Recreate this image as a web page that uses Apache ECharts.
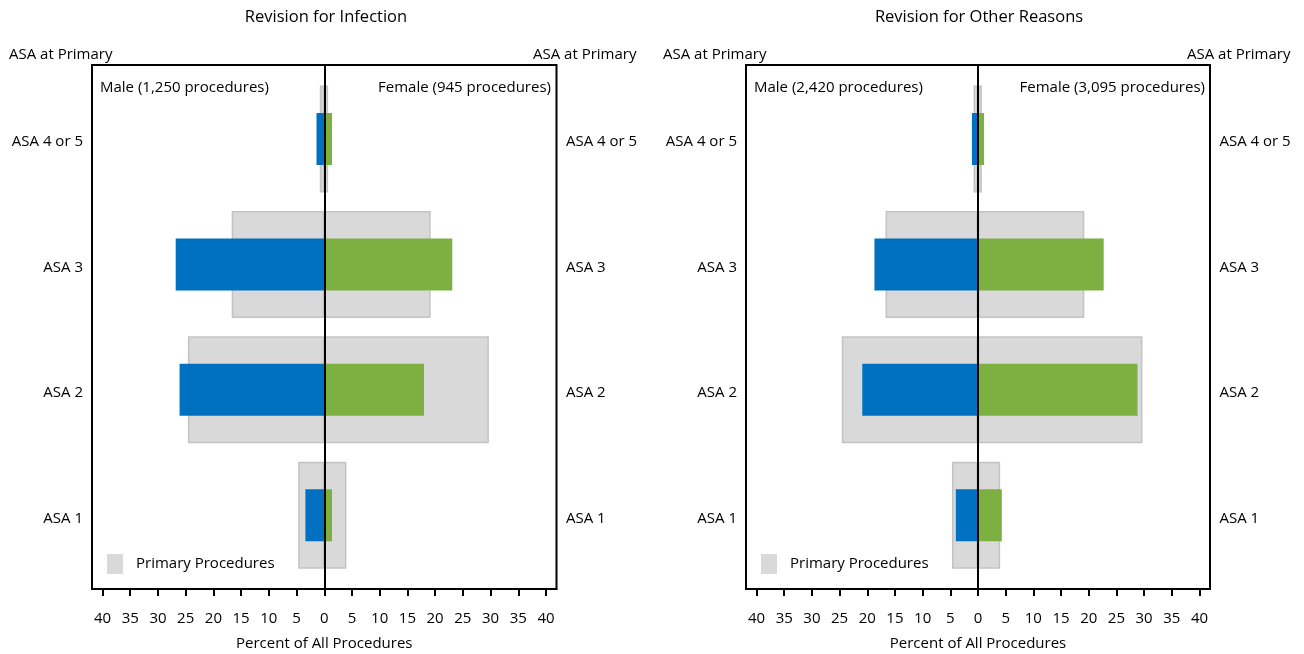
<!DOCTYPE html>
<html><head><meta charset="utf-8">
<script src="https://cdn.jsdelivr.net/npm/echarts@6/dist/echarts.min.js"></script>
<style>html,body{margin:0;padding:0;background:#fff}#c{width:1304px;height:654px}</style>
</head><body><div id="c"></div>
<script>
// ---- data ----
const categories = ['ASA 1', 'ASA 2', 'ASA 3', 'ASA 4 or 5'];
const xTicks = [-40, -35, -30, -25, -20, -15, -10, -5, 0, 5, 10, 15, 20, 25, 30, 35, 40];
const primaryMale = [4.7, 24.6, 16.7, 0.8];
const primaryFemale = [4.0, 29.7, 19.2, 0.7];
const infectionMale = [3.4, 26.1, 26.8, 1.4];
const infectionFemale = [1.4, 18.0, 23.1, 1.4];
const otherMale = [4.0, 20.9, 18.7, 1.1];
const otherFemale = [4.3, 28.8, 22.7, 1.1];
const panelTitles = ['Revision for Infection', 'Revision for Other Reasons'];
const maleLabels = ['Male (1,250 procedures)', 'Male (2,420 procedures)'];
const femaleLabels = ['Female (945 procedures)', 'Female (3,095 procedures)'];
const primaryName = 'Primary Procedures';
const axisTitle = 'Percent of All Procedures';
const sideTitle = 'ASA at Primary';

// ---- layout ----
const FONT = '"Open Sans", "Noto Sans", sans-serif';
const FS = 15;
const panels = [
  { left: 92, right: 1304 - 556.5, revM: infectionMale, revF: infectionFemale,
    titleX: 326, sideL: 9, sideR: 533, maleX: 100, femaleX: 551, legendX: 107 },
  { left: 746, right: 1304 - 1210, revM: otherMale, revF: otherFemale,
    titleX: 979, sideL: 663, sideR: 1187, maleX: 754, femaleX: 1205, legendX: 761 }
];
const XMIN = -41.9, XMAX = 41.9;
const neg = a => a.map(v => -v);

const grid = [], xAxis = [], yAxis = [], series = [], legend = [], graphic = [];
panels.forEach((p, i) => {
  const gF = grid.length;
  grid.push({ left: p.left, right: p.right, top: 65, bottom: 654 - 589, show: true,
    borderColor: '#000', borderWidth: 2, backgroundColor: 'transparent',
    containLabel: false, outerBoundsMode: 'none' });
  const gD = grid.length;
  grid.push({ left: p.left, right: p.right, top: 76.3, bottom: 76,
    containLabel: false, outerBoundsMode: 'none' });

  xAxis.push({ gridIndex: gF, type: 'value', min: XMIN, max: XMAX, position: 'bottom', z: 10,
    axisLine: { show: true, onZero: false, lineStyle: { color: '#000', width: 2 } },
    axisTick: { show: true, customValues: xTicks, length: 7, lineStyle: { color: '#000', width: 2 } },
    axisLabel: { show: true, customValues: xTicks, color: '#000', fontSize: FS, fontFamily: FONT, margin: 22,
      formatter: v => String(Math.abs(v)) },
    splitLine: { show: false },
    name: axisTitle, nameLocation: 'middle', nameGap: 47,
    nameTextStyle: { color: '#000', fontSize: FS, fontFamily: FONT } });
  const xD = xAxis.length;
  xAxis.push({ gridIndex: gD, type: 'value', min: XMIN, max: XMAX, show: false, splitLine: { show: false } });

  yAxis.push({ gridIndex: gF, type: 'value', min: 0, max: 1, z: 10,
    axisLine: { show: true, onZero: true, lineStyle: { color: '#000', width: 2 } },
    axisTick: { show: false }, axisLabel: { show: false }, splitLine: { show: false } });
  const yA = yAxis.length;
  yAxis.push({ gridIndex: gD, type: 'category', data: categories, position: 'left',
    axisLine: { show: false }, axisTick: { show: false },
    axisLabel: { color: '#000', fontSize: FS, fontFamily: FONT, margin: 9, verticalAlign: 'top', lineHeight: 6 } });
  const yB = yAxis.length;
  yAxis.push({ gridIndex: gD, type: 'category', data: categories, position: 'right',
    axisLine: { show: false }, axisTick: { show: false },
    axisLabel: { color: '#000', fontSize: FS, fontFamily: FONT, margin: 9.5, verticalAlign: 'top', lineHeight: 6 } });

  const grayStyle = { color: '#d9d9d9', borderColor: '#c3c3c3', borderWidth: 1.5 };
  series.push({ name: primaryName, type: 'bar', xAxisIndex: xD, yAxisIndex: yA, stack: 'prim' + i,
    barWidth: 107, data: neg(primaryMale), itemStyle: grayStyle, z: 1, silent: true });
  series.push({ name: primaryName, type: 'bar', xAxisIndex: xD, yAxisIndex: yA, stack: 'prim' + i,
    barWidth: 107, data: primaryFemale, itemStyle: grayStyle, z: 1, silent: true });
  series.push({ name: 'Male', type: 'bar', xAxisIndex: xD, yAxisIndex: yB, stack: 'rev' + i,
    barWidth: 52, data: neg(p.revM), itemStyle: { color: '#0070c0' }, z: 2, silent: true });
  series.push({ name: 'Female', type: 'bar', xAxisIndex: xD, yAxisIndex: yB, stack: 'rev' + i,
    barWidth: 52, data: p.revF, itemStyle: { color: '#7cb041' }, z: 2, silent: true });

  legend.push({ data: [primaryName], left: p.legendX, top: 554, padding: 0, selectedMode: false,
    icon: 'rect', itemWidth: 16, itemHeight: 20, itemStyle: { color: '#d9d9d9', borderWidth: 0 },
    textStyle: { color: '#000', fontSize: FS, fontFamily: FONT, padding: [0, 0, 0, 8],
      verticalAlign: 'top', lineHeight: 4 } });

  const txt = (text, x, y, align, size) => ({ type: 'text', x, y, silent: true,
    style: { text, fill: '#000', font: size + 'px ' + FONT, textAlign: align, align: align,
      textVerticalAlign: 'middle', verticalAlign: 'middle' } });
  graphic.push(txt(panelTitles[i], p.titleX, 17, 'center', 16.5));
  graphic.push(txt(sideTitle, p.sideL, 55, 'left', FS));
  graphic.push(txt(sideTitle, p.sideR, 55, 'left', FS));
  graphic.push(txt(maleLabels[i], p.maleX, 87.5, 'left', FS));
  graphic.push(txt(femaleLabels[i], p.femaleX, 87.5, 'right', FS));
});

const chart = echarts.init(document.getElementById('c'), null, { renderer: 'canvas' });
chart.setOption({
  animation: false,
  backgroundColor: '#fff',
  textStyle: { fontFamily: FONT },
  grid, xAxis, yAxis, series, legend, graphic
});
</script></body></html>
